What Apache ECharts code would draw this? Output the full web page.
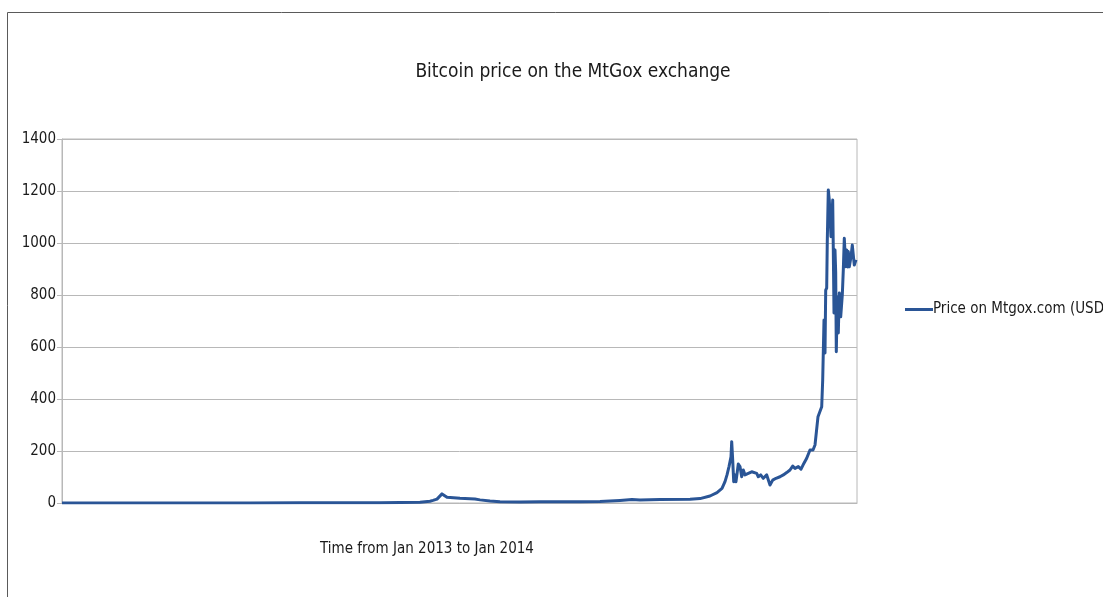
<!DOCTYPE html>
<html>
<head>
<meta charset="utf-8">
<script src="https://cdn.jsdelivr.net/npm/echarts@6/dist/echarts.min.js"></script>
<style>
html,body{margin:0;padding:0;background:#fff;}
#chart{width:1103px;height:597px;}
</style>
</head>
<body>
<div id="chart"></div>
<script>
// Sample position along the time axis (0 = first sample, 795 = last sample)
const timeIndex = [0, 38, 88, 138, 188, 238, 278, 318, 338, 358, 368, 371, 375, 380, 382, 385, 398, 413, 418, 428, 438, 458, 478, 498, 518, 538, 558, 570, 578, 598, 628, 638,
  648, 655, 660, 663, 665, 667, 669, 669.7, 670.7, 671.7, 673, 674, 676.3, 678, 679.7, 681.3, 683, 686.3, 689.7, 691.3, 694.7, 696.3, 698.7, 701.3, 704.7, 708, 710.7, 714, 718, 721.3, 724.7, 728, 730.7, 733, 736.3, 739, 741, 744.7, 748, 751, 753, 756, 759.7, 760.7, 762,
  763, 763.7, 764.7, 765.3, 766.3, 767.3, 769, 770.7, 771.3, 772, 773, 773.7, 774.3, 775.3, 776.3, 777.3, 778.7, 780.3, 781.3, 782.3, 783.7, 784.7, 785.7, 786.3, 787.3, 789, 790.3, 792.3, 794, 795];
const priceUSD = [0.1, 0.1, 0.2, 0.3, 0.3, 0.5, 0.9, 1, 1.5, 3, 7, 10, 15, 35, 28, 22, 18, 15, 12, 8, 5, 4, 5, 5, 5, 6, 10, 13, 12, 13, 14, 17,
  27, 40, 56, 82, 108, 140, 178, 236, 165, 82, 108, 82, 150, 140, 101, 127, 108, 114, 120, 127, 114, 101, 108, 95, 108, 69, 88, 95, 101, 108, 117, 127, 142, 133, 140, 130, 146, 172, 204, 204, 223, 332, 370, 473,
  704, 577, 819, 827, 1011, 1204, 1165, 1024, 1165, 973, 731, 973, 885, 582, 793, 654, 808, 716, 800, 896, 1018, 909, 973, 908, 967, 909, 947, 992, 915, 935];
const yTicks = [0, 200, 400, 600, 800, 1000, 1200, 1400];
const seriesName = 'Price on Mtgox.com (USD)';

const FONT = "'Liberation Sans Narrow', 'DejaVu Sans Condensed', Roboto, sans-serif";
const chart = echarts.init(document.getElementById('chart'), null, {renderer: 'canvas'});
chart.setOption({
  backgroundColor: '#ffffff',
  animation: false,
  title: {
    text: 'Bitcoin price on the MtGox exchange',
    left: 568, top: 58, textAlign: 'center',
    textStyle: {fontFamily: FONT, fontSize: 19, fontWeight: 'normal', color: '#1a1a1a'}
  },
  legend: {
    data: [seriesName],
    left: 900, top: 297,
    icon: 'rect', itemWidth: 28, itemHeight: 3, itemGap: 0,
    textStyle: {fontFamily: FONT, fontSize: 15, color: '#1a1a1a', padding: [0, 0, 0, -5]}
  },
  grid: {left: 62, right: 246, top: 139, bottom: 94, show: true, borderColor: '#b8b8b8', borderWidth: 1, containLabel: false},
  xAxis: {
    type: 'value', min: 0, max: 795,
    axisLine: {show: true, lineStyle: {color: '#b8b8b8'}},
    axisTick: {show: false}, axisLabel: {show: false}, splitLine: {show: false}
  },
  yAxis: {
    type: 'value', min: yTicks[0], max: yTicks[yTicks.length - 1], interval: 200,
    axisLine: {show: true, lineStyle: {color: '#b8b8b8'}},
    axisTick: {show: true, length: 5, lineStyle: {color: '#b8b8b8'}},
    axisLabel: {margin: 6, fontFamily: FONT, fontSize: 15, color: '#1a1a1a', formatter: v => String(v)},
    splitLine: {show: true, lineStyle: {color: '#b8b8b8', width: 1}}
  },
  graphic: [
    {type: 'rect', shape: {x: 7.5, y: 12.5, width: 1200, height: 700}, style: {fill: 'none', stroke: '#5a5a5a', lineWidth: 1}, silent: true, z: 0},
    {type: 'text', x: 427, y: 549, style: {text: 'Time from Jan 2013 to Jan 2014', font: '15px ' + FONT, fill: '#1a1a1a', textAlign: 'center', textVerticalAlign: 'middle'}}
  ],
  series: [{
    name: seriesName, type: 'line', symbol: 'none',
    data: timeIndex.map((t, i) => [t, priceUSD[i]]),
    lineStyle: {color: '#2a5596', width: 3, join: 'round'},
    itemStyle: {color: '#2a5596'}
  }]
});
</script>
</body>
</html>
